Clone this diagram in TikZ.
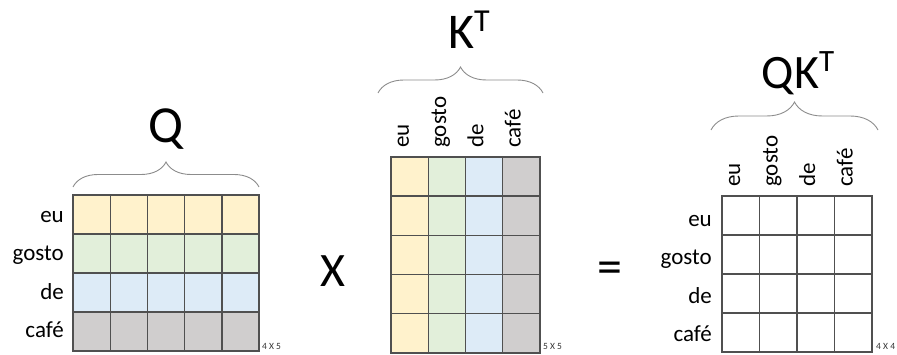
\documentclass[tikz,border=0pt]{standalone}
\usepackage{fontspec}
\setmainfont{Carlito}
\usetikzlibrary{decorations.pathreplacing}

\definecolor{cellyellow}{HTML}{FFF2CC}
\definecolor{cellgreen}{HTML}{E2EFDA}
\definecolor{cellblue}{HTML}{DDEBF7}
\definecolor{cellgray}{HTML}{D0CECE}
\definecolor{gridline}{HTML}{505050}
\definecolor{bracegray}{HTML}{8C8C8C}

\begin{document}
\begin{tikzpicture}[x=1pt, y=-1pt,
    cell/.style={draw=gridline, line width=1.4pt},
    curly/.style={draw=bracegray, line width=0.9pt, decorate, decoration={brace, amplitude=#1}},
    word/.style={font=\fontsize{23}{25}\selectfont, inner sep=0pt},
    dims/.style={font=\fontsize{9.5}{10}\selectfont, text=black!80, inner sep=0pt, anchor=west},
    big/.style={font=\fontsize{#1}{#1}\selectfont, inner sep=0pt}]
    \useasboundingbox (0,0) rectangle (897,355);

    % Matriz Q (4 x 5), uma cor por linha
    \foreach \c [count=\i from 0] in {cellyellow, cellgreen, cellblue, cellgray}
        \foreach \j in {0,...,4}
            \draw[cell, fill=\c] ({73+37.2*\j}, {195+39*\i}) rectangle ++(37.2, 39);
    \foreach \w [count=\i from 0] in {eu, gosto, de, café}
        \node[word, anchor=mid east] (qrow\i) at (64, {220+38.5*\i}) {\w};
    \draw[curly=25pt] (73,187) -- (259,187);
    \node[big=52, anchor=base] (qname) at (166,143) {Q};
    \node[dims] (qdims) at (262,346) {4 X 5};

    % Sinal de produto
    \node[big=48] (times) at (333,271) {X};

    % Matriz K transposta (5 x 4), uma cor por coluna
    \foreach \c [count=\j from 0] in {cellyellow, cellgreen, cellblue, cellgray}
        \foreach \i in {0,...,4}
            \draw[cell, fill=\c] ({391+37.25*\j}, {157+39.2*\i}) rectangle ++(37.25, 39.2);
    \foreach \w [count=\j from 0] in {eu, gosto, de, café}
        \node[word, rotate=90, anchor=mid west] (kcol\j) at ({406.5+37.25*\j}, 148) {\w};
    \draw[curly=26pt] (378,93) -- (543,93);
    \node[big=50, anchor=base] (kname) at (469,49) {K\raisebox{17pt}{\fontsize{32}{32}\selectfont T}};
    \node[dims] (kdims) at (543,346) {5 X 5};

    % Sinal de igual
    \node[big=50] (equals) at (610,272.5) {=};

    % Resultado Q K^T (4 x 4)
    \foreach \i in {0,...,3}
        \foreach \j in {0,...,3}
            \draw[cell, fill=white] ({722+37.5*\j}, {196+39*\i}) rectangle ++(37.5, 39);
    \foreach \w [count=\i from 0] in {eu, gosto, de, café}
        \node[word, anchor=mid east] (rrow\i) at (712, {224+38.5*\i}) {\w};
    \foreach \w [count=\j from 0] in {eu, gosto, de, café}
        \node[word, rotate=90, anchor=mid west] (rcol\j) at ({737.75+37.5*\j}, 187) {\w};
    \draw[curly=28pt] (711,130) -- (878,130);
    \node[big=48, anchor=base] (rname) at (798,89) {QK\raisebox{17pt}{\fontsize{31}{31}\selectfont T}};
    \node[dims] (rdims) at (876,346) {4 X 4};
\end{tikzpicture}
\end{document}
